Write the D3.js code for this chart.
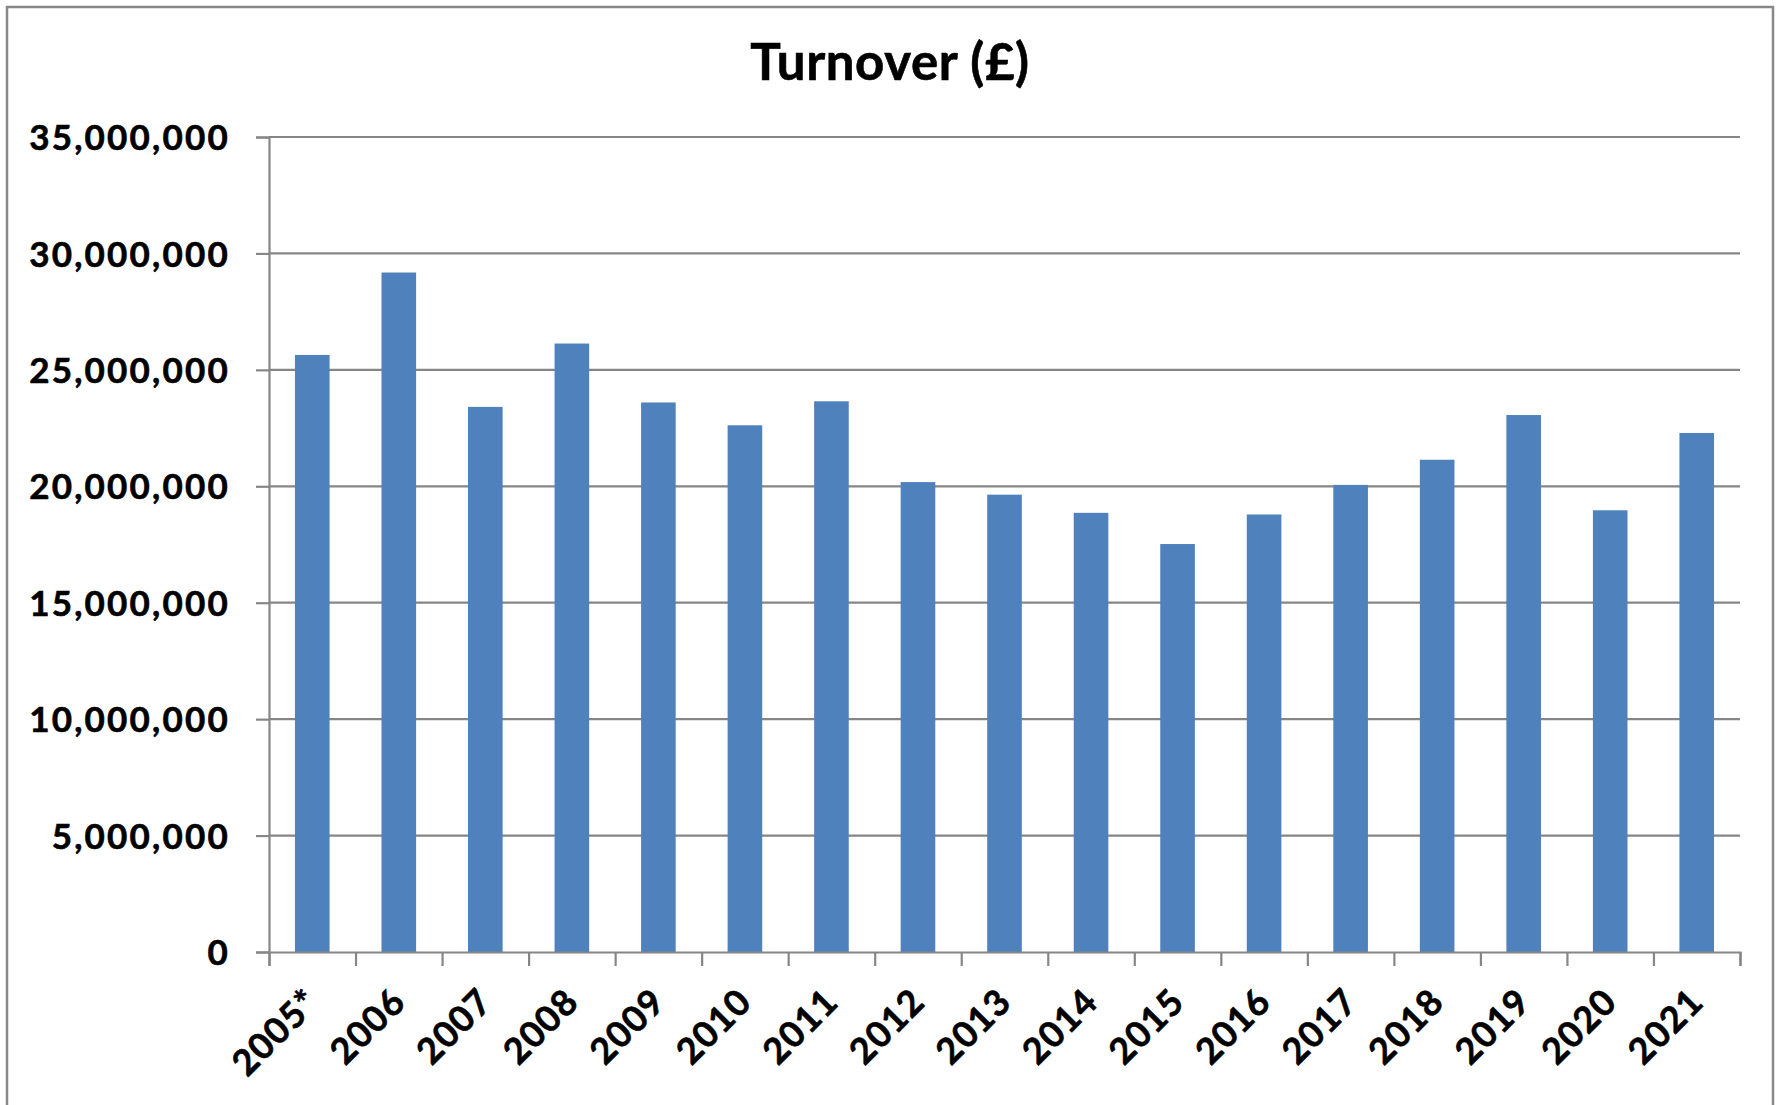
<!DOCTYPE html>
<html>
<head>
<meta charset="utf-8">
<script src="https://cdn.jsdelivr.net/npm/d3@7"></script>
<style>
  html, body { margin: 0; padding: 0; background: #ffffff; }
  svg { display: block; }
  text { font-family: Lato, "Open Sans", sans-serif; font-weight: 700; fill: #000; stroke: #000; stroke-width: 0.6px; }
</style>
</head>
<body>
<svg id="chart" width="1779" height="1105"></svg>
<script>
const title = "Turnover (£)";
const categories = ["2005*", "2006", "2007", "2008", "2009", "2010", "2011", "2012", "2013",
  "2014", "2015", "2016", "2017", "2018", "2019", "2020", "2021"];
const turnover = [25640000, 29180000, 23410000, 26130000, 23600000, 22620000, 23650000, 20180000,
  19640000, 18860000, 17520000, 18790000, 20060000, 21140000, 23060000, 18970000, 22290000];
const yTicks = [0, 5000000, 10000000, 15000000, 20000000, 25000000, 30000000, 35000000];

const svg = d3.select("#chart");
const plot = { left: 269, right: 1740, top: 137, bottom: 952 };
const gridColor = "#868686";

// outer chart border
svg.append("rect")
  .attr("x", 7).attr("y", 7).attr("width", 1766).attr("height", 1110)
  .attr("fill", "#fff").attr("stroke", "#888").attr("stroke-width", 2.5);

const x = d3.scaleBand().domain(categories).range([plot.left, plot.right])
  .paddingInner(0.6).paddingOuter(0.3);
const xEdge = d3.scaleLinear().domain([0, categories.length]).range([plot.left, plot.right]);
const y = d3.scaleLinear().domain([0, 35000000]).range([plot.bottom, plot.top]);

// gridlines
svg.append("g").selectAll("line").data(yTicks.filter(d => d > 0)).join("line")
  .attr("x1", plot.left).attr("x2", plot.right)
  .attr("y1", d => y(d)).attr("y2", d => y(d))
  .attr("stroke", gridColor).attr("stroke-width", 2.2);

// bars
svg.append("g").selectAll("rect").data(categories).join("rect")
  .attr("x", d => x(d)).attr("width", x.bandwidth())
  .attr("y", (d, i) => y(turnover[i]))
  .attr("height", (d, i) => y(0) - y(turnover[i]))
  .attr("fill", "#4F81BD");

// y axis
const fmt = d3.format(",");
const yAxis = svg.append("g").attr("transform", `translate(${plot.left},0)`)
  .call(d3.axisLeft(y).tickValues(yTicks).tickFormat(d => fmt(d)).tickSize(13).tickPadding(26));
yAxis.select(".domain").attr("stroke", gridColor).attr("stroke-width", 2.2);
yAxis.selectAll(".tick line").attr("stroke", gridColor).attr("stroke-width", 2.2);
yAxis.selectAll(".tick text").attr("font-size", 35).attr("letter-spacing", "2.2px")
  .attr("font-family", "Lato, sans-serif").attr("font-weight", 700).attr("fill", "#000")
  .attr("stroke", "#000").attr("stroke-width", 0.6)
  .attr("dy", "0.36em");

// x axis ticks at category boundaries
const xAxis = svg.append("g").attr("transform", `translate(0,${plot.bottom})`)
  .call(d3.axisBottom(xEdge).tickValues(d3.range(categories.length + 1)).tickFormat("").tickSize(14));
xAxis.select(".domain").attr("stroke", gridColor).attr("stroke-width", 2.2);
xAxis.selectAll(".tick line").attr("stroke", gridColor).attr("stroke-width", 2.2);

// x labels rotated
svg.append("g").selectAll("text").data(categories).join("text")
  .attr("transform", d => `translate(${x(d) + x.bandwidth() / 2 + 9},${plot.bottom + 52}) rotate(-45)`)
  .attr("text-anchor", "end")
  .attr("font-size", 36).attr("letter-spacing", "1.2px")
  .text(d => d);

// title
svg.append("text").attr("x", 890).attr("y", 80).attr("text-anchor", "middle")
  .attr("font-size", 51).attr("letter-spacing", "0.6px").text(title);
</script>
</body>
</html>
